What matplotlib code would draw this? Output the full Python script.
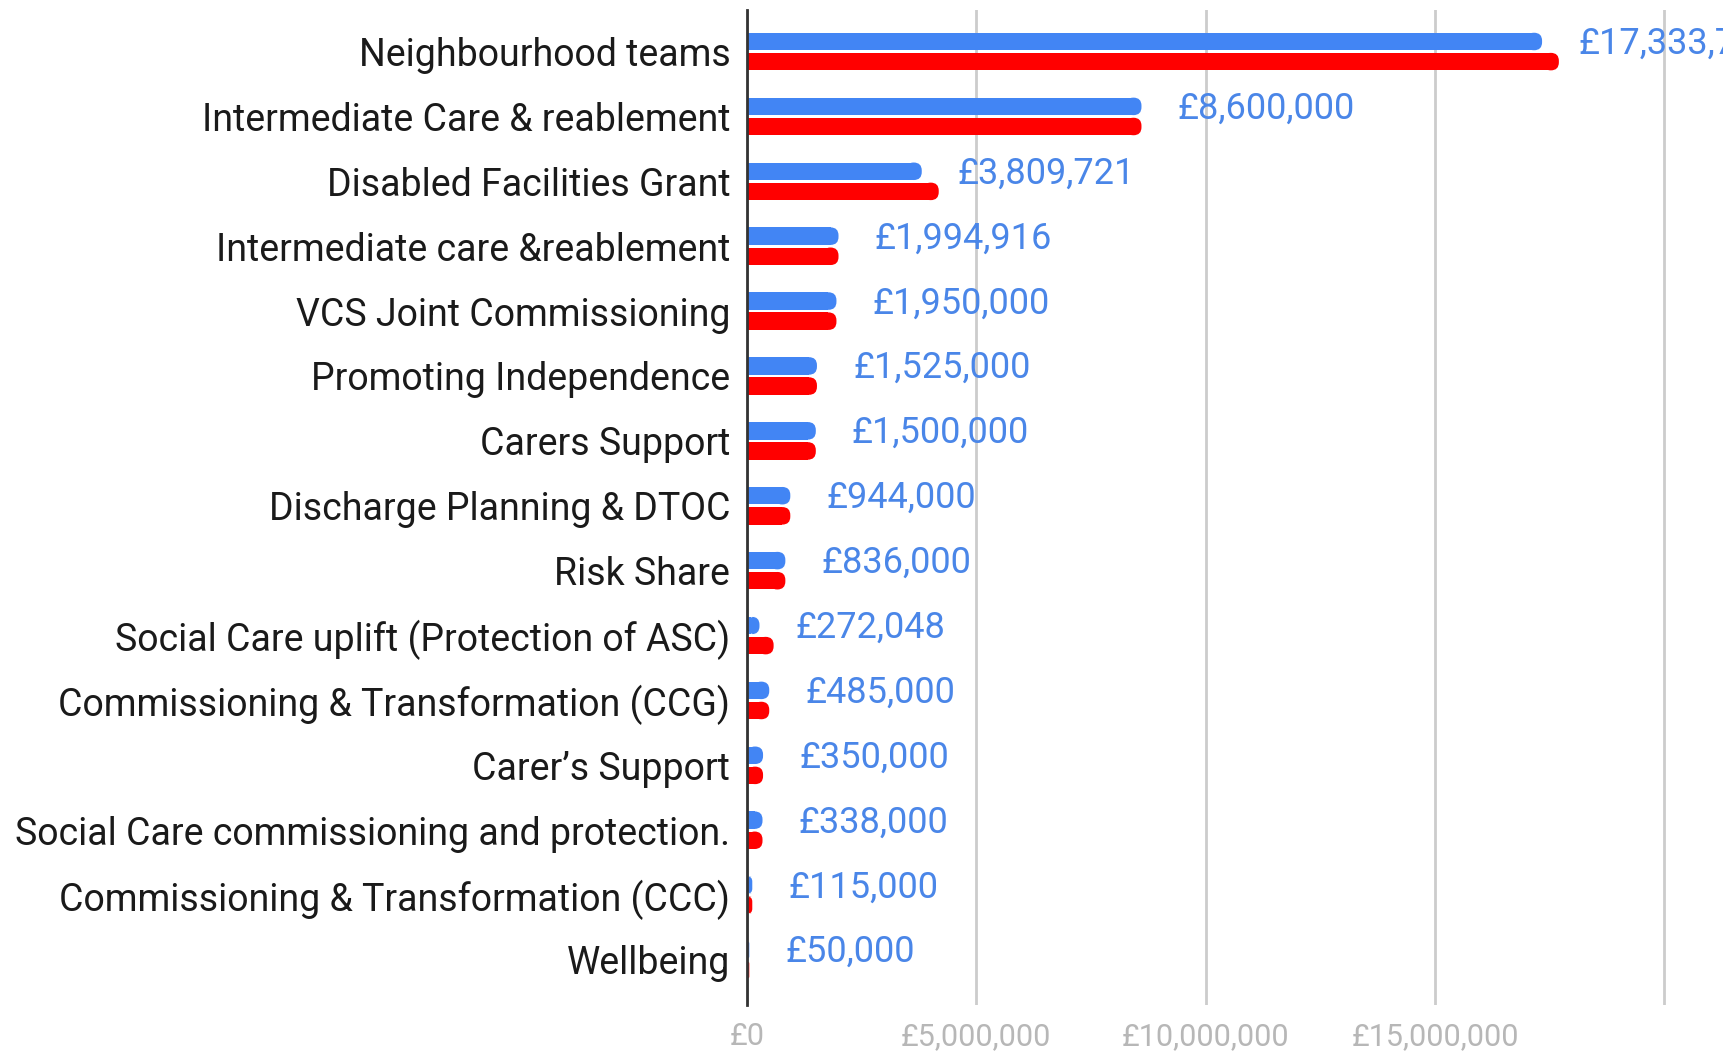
import numpy as np
import matplotlib.pyplot as plt
from matplotlib.patches import FancyBboxPatch

categories = [
    "Neighbourhood teams",
    "Intermediate Care & reablement",
    "Disabled Facilities Grant",
    "Intermediate care &reablement",
    "VCS Joint Commissioning",
    "Promoting Independence",
    "Carers Support",
    "Discharge Planning & DTOC",
    "Risk Share",
    "Social Care uplift (Protection of ASC)",
    "Commissioning & Transformation (CCG)",
    "Carer\u2019s Support",
    "Social Care commissioning and protection.",
    "Commissioning & Transformation (CCC)",
    "Wellbeing",
]
blue_values = [17333700, 8600000, 3809721, 1994916, 1950000, 1525000, 1500000,
               944000, 836000, 272048, 485000, 350000, 338000, 115000, 50000]
# second series
red_values = [17700000, 8600000, 4180000, 1994916, 1950000, 1525000, 1500000,
              944000, 836000, 580000, 485000, 350000, 338000, 115000, 50000]
xticks = [0, 5000000, 10000000, 15000000, 20000000]
xtick_labels = ["\u00a30", "\u00a35,000,000", "\u00a310,000,000", "\u00a315,000,000", ""]

BLUE = "#4285f4"
LABEL_BLUE = "#4a86e8"
RED = "#ff0000"

plt.rcParams['font.family'] = ['Roboto', 'DejaVu Sans']

fig = plt.figure(figsize=(17.24, 10.55), dpi=100)
ax = fig.add_axes([0.4333, 0.047, 0.5667, 0.9435])

y = np.arange(len(categories))
h = 0.27
off = 0.155
bb = ax.barh(y - off, blue_values, height=h, color=BLUE, zorder=3)
rb = ax.barh(y + off, red_values, height=h, color=RED, zorder=3)

ax.set_xlim(0, 21300000)
ax.set_ylim(14.70, -0.64)

# round off the right-hand end of each bar
fig.canvas.draw()
px_per_x = ax.transData.transform((1e6, 0))[0] - ax.transData.transform((0, 0))[0]
px_per_y = abs(ax.transData.transform((0, 1))[1] - ax.transData.transform((0, 0))[1])
r = 8  # px
for bars in (bb, rb):
    for p in bars:
        x0, y0 = p.get_x(), p.get_y()
        w, hh = p.get_width(), p.get_height()
        rx = r / px_per_x * 1e6
        ry = r / px_per_y
        rs = min(rx, w)
        p.set_visible(False)
        sq = plt.Rectangle((x0, y0), max(w - rs, 0), hh, color=p.get_facecolor(), zorder=3, lw=0)
        ax.add_patch(sq)
        cap = FancyBboxPatch((x0 + max(w - 2 * rs, 0), y0), min(2 * rs, w), hh,
                             boxstyle="round,pad=0,rounding_size=%f" % rs,
                             mutation_aspect=ry / rx if rx else 1,
                             color=p.get_facecolor(), zorder=3, lw=0)
        ax.add_patch(cap)

for yi, v in zip(y, blue_values):
    ax.annotate("\u00a3{:,}".format(v), (v, yi - 0.12), xytext=(26, 0),
                textcoords="offset points", va="center", ha="left",
                fontsize=26, color=LABEL_BLUE, annotation_clip=False)

ax.set_yticks(y)
ax.set_yticklabels(categories, fontsize=27, color="#1a1a1a")
ax.set_xticks(xticks)
ax.set_xticklabels(xtick_labels, fontsize=22, color="#b7b7b7")
ax.tick_params(axis="both", length=0)
ax.tick_params(axis="y", pad=12)
ax.tick_params(axis="x", pad=12)
ax.grid(axis="x", color="#cccccc", linewidth=2, zorder=0)
for s in ["top", "right", "bottom"]:
    ax.spines[s].set_visible(False)
ax.spines["left"].set_color("#333333")
ax.spines["left"].set_linewidth(2)
ax.spines["left"].set_zorder(4)

fig.savefig("out.png", dpi=100)
